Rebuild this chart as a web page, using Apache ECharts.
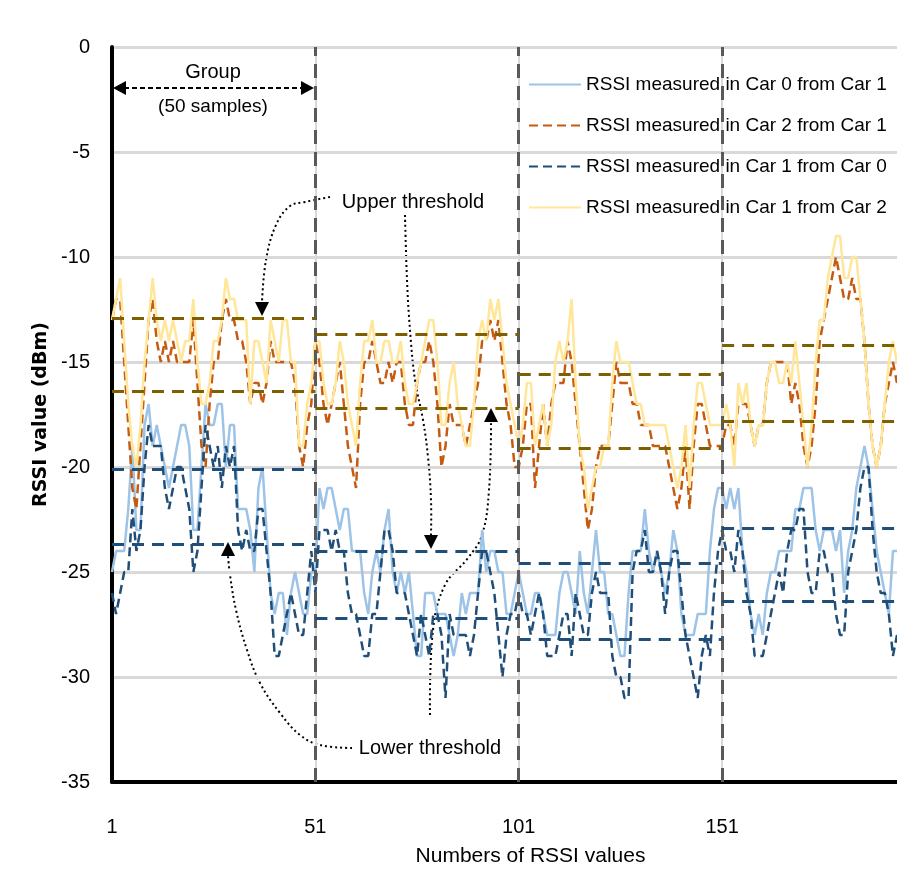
<!DOCTYPE html>
<html>
<head>
<meta charset="utf-8">
<script src="https://cdn.jsdelivr.net/npm/echarts@6/dist/echarts.min.js"></script>
<style>
html, body { margin: 0; padding: 0; background: #fff; }
#chart { width: 897px; height: 879px; }
</style>
</head>
<body>
<div id="chart"></div>
<script>
// sample numbers 1..194 (category axis)
var samples = [];
for (var i = 1; i <= 194; i++) samples.push(String(i));

// RSSI values (dBm), one line per group of 50 samples
var car0FromCar1 = [
  -25,-24,-24,-24,-22,-19,-23,-23,-18,-17, -19,-18,-19,-20,-21,-20,-19,-18,-18,-19, -23,-23,-20,-17,-18,-18,-17,-17,-20,-18, -18,-22,-22,-22,-23,-25,-21,-20,-23,-26, -27,-26,-26,-28,-26,-25,-26,-27,-27,-25,
  -25,-21,-22,-21,-21,-22,-23,-22,-22,-24, -24,-24,-26,-27,-25,-24,-25,-23,-22,-25, -26,-25,-26,-25,-27,-29,-29,-26,-26,-26, -27,-27,-27,-28,-29,-28,-26,-27,-26,-26, -26,-23,-25,-24,-24,-25,-25,-27,-27,-26,
  -25,-26,-27,-27,-26,-26,-27,-28,-28,-28, -26,-25,-25,-26,-27,-24,-26,-27,-25,-23, -25,-25,-27,-27,-28,-29,-29,-26,-24,-24, -24,-22,-24,-25,-24,-25,-26,-25,-23,-24, -27,-28,-28,-28,-27,-27,-27,-24,-22,-21,
  -21,-22,-21,-22,-21,-24,-25,-27,-28,-27, -28,-26,-25,-25,-24,-24,-24,-24,-22,-22, -21,-21,-21,-23,-24,-23,-23,-23,-24,-23, -26,-24,-23,-21,-20,-19,-20,-22,-24,-25, -26,-27,-24,-24
];
var car2FromCar1 = [
  -13,-12,-12,-15,-18,-21,-22,-19,-16,-13, -12,-14,-15,-14,-15,-14,-15,-15,-15,-15, -13,-16,-19,-20,-17,-15,-15,-13,-12,-13, -13,-14,-14,-15,-17,-16,-16,-17,-16,-14, -15,-15,-15,-15,-15,-16,-19,-20,-18,-17,
  -14,-15,-17,-18,-17,-16,-15,-17,-19,-20, -21,-17,-15,-15,-14,-15,-16,-16,-15,-16, -15,-15,-17,-18,-18,-16,-15,-15,-14,-15, -17,-20,-19,-17,-18,-18,-18,-19,-18,-17, -16,-14,-14,-13,-14,-13,-15,-17,-18,-20,
  -20,-19,-17,-17,-21,-19,-17,-19,-17,-16, -16,-16,-14,-15,-17,-19,-21,-23,-22,-20, -19,-19,-19,-17,-15,-16,-16,-16,-17,-17, -18,-18,-18,-19,-19,-19,-19,-20,-21,-22, -21,-19,-22,-19,-17,-17,-18,-19,-19,-19,
  -19,-18,-18,-19,-17,-17,-17,-18,-19,-18, -18,-16,-15,-15,-15,-15,-15,-17,-16,-17, -19,-20,-19,-17,-14,-13,-12,-11,-10,-11, -12,-12,-11,-12,-12,-14,-17,-19,-20,-19, -17,-16,-15,-16
];
var car1FromCar0 = [
  -26,-27,-26,-25,-25,-22,-24,-23,-20,-18, -19,-19,-19,-21,-22,-21,-20,-20,-21,-22, -25,-24,-21,-18,-19,-20,-19,-21,-19,-20, -19,-23,-24,-23,-24,-24,-22,-22,-24,-26, -29,-29,-28,-27,-26,-27,-28,-28,-26,-24,
  -26,-23,-23,-23,-24,-23,-24,-24,-26,-27, -27,-28,-29,-29,-27,-27,-25,-23,-23,-24, -26,-26,-26,-27,-28,-29,-27,-28,-29,-27, -27,-28,-31,-27,-28,-28,-28,-28,-29,-28, -26,-24,-24,-25,-26,-28,-30,-28,-27,-27,
  -26,-27,-27,-28,-27,-26,-27,-29,-29,-29, -28,-27,-27,-29,-26,-27,-28,-28,-26,-25, -26,-26,-26,-29,-30,-30,-31,-31,-25,-24, -24,-23,-25,-25,-24,-25,-27,-25,-24,-24, -26,-28,-29,-30,-31,-29,-28,-29,-26,-24,
  -23,-24,-24,-25,-23,-24,-26,-27,-29,-29, -29,-28,-27,-26,-25,-26,-24,-23,-23,-22, -22,-25,-26,-26,-24,-24,-25,-25,-27,-28, -28,-25,-24,-23,-21,-20,-20,-23,-25,-26, -26,-27,-29,-28
];
var car1FromCar2 = [
  -13,-12,-11,-14,-17,-19,-20,-18,-15,-13, -11,-13,-14,-13,-14,-13,-14,-15,-14,-14, -12,-15,-17,-17,-16,-14,-14,-13,-11,-12, -12,-13,-13,-13,-17,-14,-14,-15,-16,-13, -14,-15,-13,-13,-15,-15,-19,-19,-17,-16,
  -14,-14,-16,-17,-17,-16,-14,-15,-17,-18, -19,-16,-14,-14,-13,-15,-15,-14,-14,-15, -15,-14,-16,-17,-17,-16,-15,-14,-13,-13, -15,-18,-18,-16,-15,-17,-18,-19,-19,-17, -14,-13,-14,-12,-13,-12,-14,-16,-17,-18,
  -19,-18,-16,-16,-19,-18,-17,-19,-18,-15, -14,-15,-14,-12,-16,-19,-20,-22,-21,-20, -20,-19,-19,-16,-14,-15,-15,-15,-16,-17, -17,-18,-18,-18,-18,-18,-18,-19,-20,-21, -20,-18,-21,-18,-16,-16,-17,-18,-18,-18,
  -18,-17,-18,-20,-16,-17,-16,-18,-19,-18, -18,-16,-15,-15,-16,-16,-15,-16,-14,-16, -18,-20,-18,-15,-13,-13,-11,-10,-9,-9, -11,-11,-10,-10,-12,-14,-17,-19,-20,-19, -17,-15,-14,-15
];

// group edges and per-group thresholds (dBm)
var groupEdges = ['1', '51', '101', '151', '194'];
var separators = ['51', '101', '151'];
var upperCar12 = [-12.9, -13.7, -15.6, -14.2];
var lowerCar12 = [-16.4, -17.2, -19.1, -17.8];
var upperCar01 = [-20.1, -24.0, -24.6, -22.9];
var lowerCar01 = [-23.7, -27.2, -28.2, -26.4];

var FONT = "'Liberation Sans', Arial, sans-serif";

function thresholdLines(values, color) {
  var out = [];
  for (var g = 0; g < values.length; g++) {
    out.push([
      { xAxis: groupEdges[g], yAxis: values[g], lineStyle: { color: color } },
      { xAxis: groupEdges[g + 1], yAxis: values[g] }
    ]);
  }
  return out;
}

var thresholds = []
  .concat(thresholdLines(upperCar12, '#7f6000'))
  .concat(thresholdLines(lowerCar12, '#7f6000'))
  .concat(thresholdLines(upperCar01, '#1f4e79'))
  .concat(thresholdLines(lowerCar01, '#1f4e79'));

var everyGroup = function (idx) { return idx % 50 === 0; };

var dots = { stroke: '#000', lineWidth: 2, lineDash: [2, 3], fill: null };
function arrowHead(x, y, up) {
  var d = up ? 14 : -14;
  return { type: 'polygon', shape: { points: [[x, y], [x - 7, y + d], [x + 7, y + d]] }, style: { fill: '#000' } };
}
function note(text, x, y, size) {
  return { type: 'text', x: x, y: y, style: { text: text, font: size + 'px ' + FONT, fill: '#000', align: 'center', verticalAlign: 'middle' } };
}

var chart = echarts.init(document.getElementById('chart'));
chart.setOption({
  backgroundColor: '#fff',
  animation: false,
  textStyle: { fontFamily: FONT },
  grid: { left: 112, right: 0, top: 47, bottom: 97 },
  legend: {
    orient: 'vertical',
    left: 523,
    top: 70,
    itemWidth: 52,
    itemHeight: 14,
    itemGap: 22,
    itemStyle: { opacity: 0 },
    textStyle: { fontFamily: FONT, fontSize: 19, color: '#000' },
    data: ['RSSI measured in Car 0 from Car 1', 'RSSI measured in Car 2 from Car 1',
           'RSSI measured in Car 1 from Car 0', 'RSSI measured in Car 1 from Car 2']
  },
  xAxis: {
    type: 'category',
    data: samples,
    boundaryGap: false,
    name: 'Numbers of RSSI values',
    nameLocation: 'middle',
    nameGap: 64,
    nameTextStyle: { fontFamily: FONT, fontSize: 21, color: '#000', padding: [0, 0, 0, 52] },
    axisLine: { onZero: false, lineStyle: { color: '#000', width: 4 } },
    axisTick: { show: false },
    axisLabel: { interval: everyGroup, margin: 35, fontSize: 20, color: '#000', fontFamily: FONT },
    splitLine: { show: true, interval: everyGroup, lineStyle: { color: '#d9d9d9', width: 2 } }
  },
  yAxis: {
    type: 'value',
    min: -35,
    max: 0,
    interval: 5,
    name: 'RSSI value (dBm)',
    nameLocation: 'middle',
    nameGap: 54,
    nameTextStyle: { fontFamily: 'DejaVu Sans', fontWeight: 'bold', fontSize: 19, color: '#000', padding: [0, 0, 0, 0] },
    axisLine: { show: true, onZero: false, lineStyle: { color: '#000', width: 4 } },
    axisTick: { show: false },
    axisLabel: { margin: 22, fontSize: 20, color: '#000', fontFamily: FONT },
    splitLine: { lineStyle: { color: '#d9d9d9', width: 3 } }
  },
  series: [
    {
      name: 'RSSI measured in Car 0 from Car 1',
      type: 'line',
      data: car0FromCar1,
      symbol: 'none',
      color: '#9dc3e6',
      lineStyle: { color: '#9dc3e6', width: 2.5 },
      markLine: {
        silent: true,
        symbol: 'none',
        label: { show: false },
        lineStyle: { color: '#595959', width: 3, type: [14, 8] },
        data: separators.map(function (s) { return { xAxis: s }; })
      }
    },
    {
      name: 'RSSI measured in Car 2 from Car 1',
      type: 'line',
      data: car2FromCar1,
      symbol: 'none',
      color: '#c55a11',
      lineStyle: { color: '#c55a11', width: 2.5, type: [9, 5] }
    },
    {
      name: 'RSSI measured in Car 1 from Car 0',
      type: 'line',
      data: car1FromCar0,
      symbol: 'none',
      color: '#1f4e79',
      lineStyle: { color: '#1f4e79', width: 2.5, type: [9, 5] }
    },
    {
      name: 'RSSI measured in Car 1 from Car 2',
      type: 'line',
      data: car1FromCar2,
      symbol: 'none',
      color: '#ffe699',
      lineStyle: { color: '#ffe699', width: 2.5 },
      markLine: {
        silent: true,
        symbol: 'none',
        label: { show: false },
        lineStyle: { width: 3, type: [12, 8] },
        data: thresholds
      }
    }
  ],
  graphic: [
    { type: 'line', shape: { x1: 124, y1: 88, x2: 303, y2: 88 }, style: { stroke: '#000', lineWidth: 2, lineDash: [5, 3] } },
    { type: 'polygon', shape: { points: [[113, 88], [126, 81], [126, 95]] }, style: { fill: '#000' } },
    { type: 'polygon', shape: { points: [[314, 88], [301, 81], [301, 95]] }, style: { fill: '#000' } },
    note('Group', 213, 72, 20),
    note('(50 samples)', 213, 107, 19),
    note('Upper threshold', 413, 202, 20),
    note('Lower threshold', 430, 748, 20),
    { type: 'polyline', shape: { points: [[330, 197], [305, 202], [290, 206], [276, 225], [266, 260], [262, 302]], smooth: 0.4 }, style: dots },
    arrowHead(262, 316, false),
    { type: 'polyline', shape: { points: [[405, 215], [407, 280], [410, 330], [415, 380], [423, 420], [428, 457], [431, 500], [431, 535]], smooth: 0.4 }, style: dots },
    arrowHead(431, 549, false),
    { type: 'polyline', shape: { points: [[352, 748], [320, 745], [300, 735], [280, 713], [260, 683], [247, 650], [236, 610], [230, 575], [228, 556]], smooth: 0.4 }, style: dots },
    arrowHead(228, 542, true),
    { type: 'polyline', shape: { points: [[430, 715], [433, 630], [445, 585], [468, 558], [482, 535], [489, 490], [491, 422]], smooth: 0.4 }, style: dots },
    arrowHead(491, 408, true)
  ]
});
</script>
</body>
</html>
